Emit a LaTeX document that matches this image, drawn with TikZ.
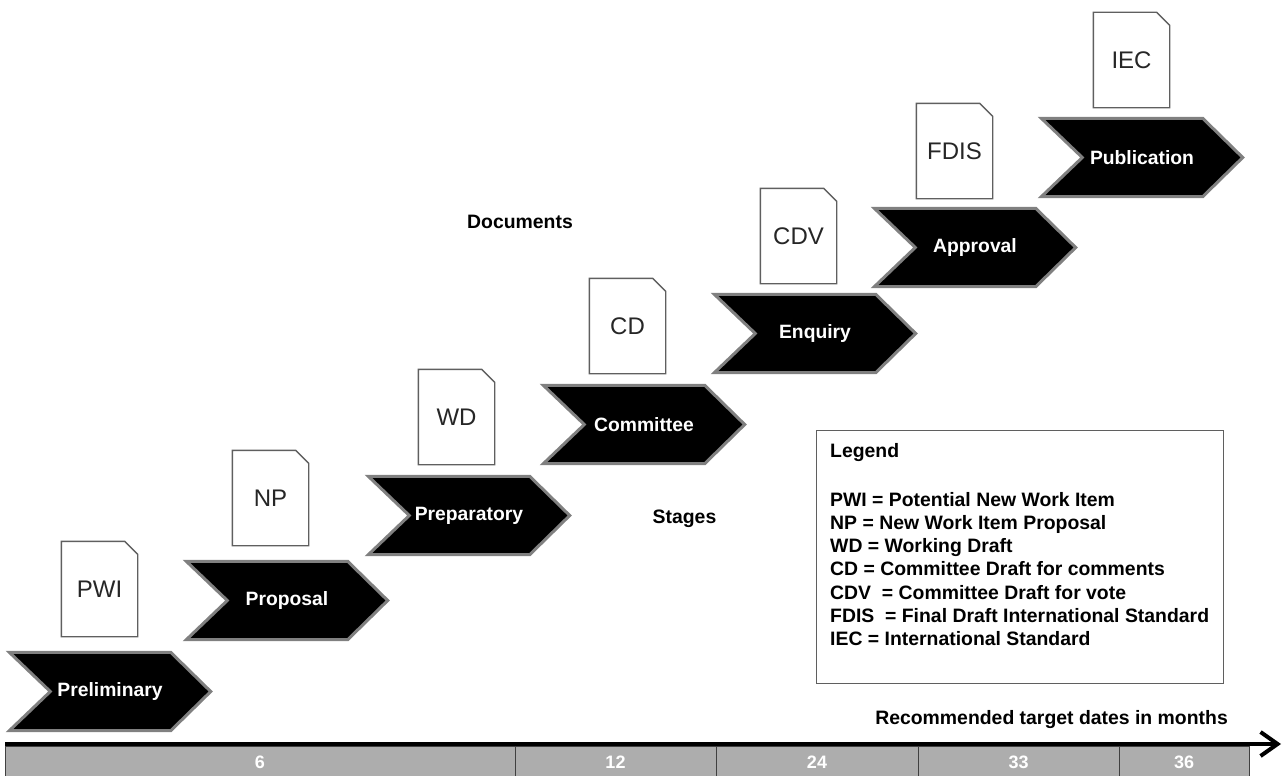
\documentclass[tikz,border=0pt]{standalone}
\usepackage{fontspec}
\setmainfont{Liberation Sans}
\usetikzlibrary{arrows.meta}
\pgfdeclarelayer{background}
\pgfsetlayers{background,main}

\definecolor{chevedge}{RGB}{128,128,128}
\definecolor{docedge}{RGB}{95,95,95}
\definecolor{barfill}{RGB}{173,173,173}

\tikzset{
  stage/.style={minimum width=201pt, minimum height=78pt, inner sep=0pt,
    text=white, font=\bfseries\fontsize{19.3}{22}\selectfont},
  chevline/.style={fill=black, draw=chevedge, line width=3pt, line join=miter},
  docbox/.style={minimum width=76pt, minimum height=95pt, inner sep=0pt,
    text=black!85, font=\fontsize{24}{28}\selectfont},
  docline/.style={draw=docedge, line width=1.4pt, fill=white},
  heading/.style={font=\bfseries\fontsize{19.4}{23.2}\selectfont, inner sep=0pt},
  cell/.style={draw=black!75, line width=1pt, fill=barfill, minimum height=32pt,
    inner sep=0pt, text=white, font=\bfseries\fontsize{18}{21}\selectfont},
  axis/.style={line width=4pt, -{Straight Barb[length=17pt,width=24pt]}},
}

% chevron outline behind a stage label
\newcommand\chevfor[1]{%
  \begin{pgfonlayer}{background}
    \draw[chevline] (#1.north west) -- ([xshift=-40pt]#1.north east) -- (#1.east)
      -- ([xshift=-40pt]#1.south east) -- (#1.south west) -- ([xshift=41pt]#1.west) -- cycle;
  \end{pgfonlayer}}

% sheet with a folded corner behind a document label
\newcommand\docfor[1]{%
  \begin{pgfonlayer}{background}
    \draw[docline] (#1.south west) -- (#1.north west) -- ([xshift=-13pt]#1.north east)
      -- ([yshift=-13pt]#1.north east) -- (#1.south east) -- cycle;
  \end{pgfonlayer}}

\begin{document}
\begin{tikzpicture}[x=1pt,y=-1pt]
\useasboundingbox (0,0) rectangle (1285,776);

% stages
\node[stage] (s1) at (110,691.5) {Preliminary};  \chevfor{s1}
\node[stage] (s2) at (287,600.5) {Proposal};     \chevfor{s2}
\node[stage] (s3) at (469,515.5) {Preparatory};  \chevfor{s3}
\node[stage] (s4) at (644,424.5) {Committee};    \chevfor{s4}
\node[stage] (s5) at (815,333.5) {Enquiry};      \chevfor{s5}
\node[stage] (s6) at (975,247.5) {Approval};     \chevfor{s6}
\node[stage] (s7) at (1142,157.5) {Publication}; \chevfor{s7}

% documents
\node[docbox] (d1) at (99.5,589) {PWI};   \docfor{d1}
\node[docbox] (d2) at (270.5,498) {NP};   \docfor{d2}
\node[docbox] (d3) at (456.5,417) {WD};   \docfor{d3}
\node[docbox] (d4) at (627.5,326) {CD};   \docfor{d4}
\node[docbox] (d5) at (798.5,236) {CDV};  \docfor{d5}
\node[docbox] (d6) at (954.5,151) {FDIS}; \docfor{d6}
\node[docbox] (d7) at (1131.5,60) {IEC};  \docfor{d7}

% headings
\node[heading] (docs) at (520,222) {Documents};
\node[heading] (stages) at (684.5,519) {Stages};
\node[heading, anchor=east] (months) at (1228,720) {Recommended target dates in months};

% legend
\node[draw=docedge, line width=1.4pt, minimum width=407pt, minimum height=253pt, inner sep=0pt]
  (legend) at (1020,557) {};
\node[heading, anchor=north west, align=left] (legtext) at (830,443)
  {Legend\\[25.8pt]
   PWI = Potential New Work Item\\
   NP = New Work Item Proposal\\
   WD = Working Draft\\
   CD = Committee Draft for comments\\
   CDV\ \ = Committee Draft for vote\\
   FDIS\ \ = Final Draft International Standard\\
   IEC = International Standard};

% time bar
\node[cell, minimum width=510pt] (m6)  at (260,762)    {6};
\node[cell, minimum width=201pt] (m12) at (615.5,762)  {12};
\node[cell, minimum width=202pt] (m24) at (817,762)    {24};
\node[cell, minimum width=201pt] (m33) at (1018.5,762) {33};
\node[cell, minimum width=130pt] (m36) at (1184,762)   {36};

\coordinate (axisstart) at (5,744);
\coordinate (axisend) at (1281,744);
\draw[axis] (axisstart) -- (axisend);
\end{tikzpicture}
\end{document}
